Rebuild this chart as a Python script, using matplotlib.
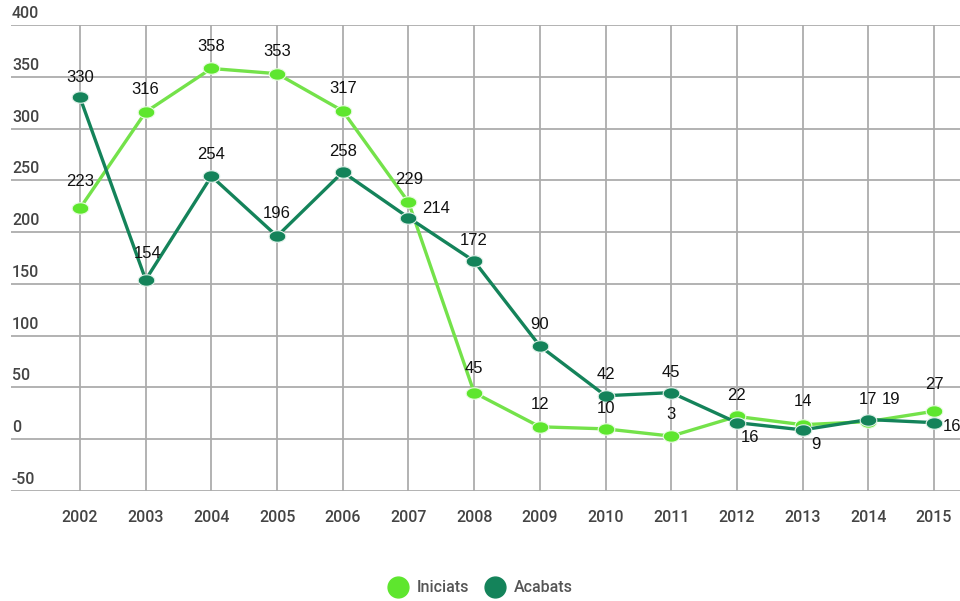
import numpy as np
import matplotlib.pyplot as plt
from matplotlib.lines import Line2D

# yearly counts
years = [2002, 2003, 2004, 2005, 2006, 2007, 2008, 2009, 2010, 2011, 2012, 2013, 2014, 2015]
iniciats = [223, 316, 358, 353, 317, 229, 45, 12, 10, 3, 22, 14, 17, 27]
acabats = [330, 154, 254, 196, 258, 214, 172, 90, 42, 45, 16, 9, 19, 16]
y_ticks = [-50, 0, 50, 100, 150, 200, 250, 300, 350, 400]

c_ini = "#5ee62e"
c_aca = "#14835a"

# label offsets in pixels (dx, dy), positive dy goes up
off_ini = [(0, 27), (0, 22), (0, 22), (0, 22), (0, 22), (1, 23), (0, 24), (0, 22),
           (0, 20), (0, 22), (0, 21), (0, 23), (0, 22), (0, 27)]
off_aca = [(0, 20), (2, 26), (0, 22), (0, 23), (0, 21), (28, 9), (0, 21), (0, 22),
           (0, 21), (0, 20), (13, -15), (13, -15), (23, 20), (18, -4)]

plt.rcParams['font.family'] = ['Roboto', 'DejaVu Sans']

fig = plt.figure(figsize=(9.6, 6.01), dpi=100)
ax = fig.add_axes([11 / 960, 110 / 601, 949 / 960, 466 / 601])

px = 65.7
ax.set_xlim(years[0] - 69 / px, years[-1] + 26 / px)
ax.set_ylim(-50, 400)

for s in ax.spines.values():
    s.set_visible(False)

ax.set_yticks(y_ticks)
ax.set_xticks(years)
ax.grid(True, color="#acacac", linewidth=1.3)
ax.set_axisbelow(True)
ax.tick_params(axis='y', length=0, labelleft=False)
ax.tick_params(axis='x', length=0, pad=14, labelsize=11.5, labelcolor="#444444")
for lbl in ax.get_xticklabels():
    lbl.set_fontweight('medium')

# y labels sit just above their gridlines
for v in y_ticks:
    ax.annotate(str(v), xy=(0, v), xycoords=ax.get_yaxis_transform(),
                xytext=(1, 4), textcoords='offset pixels', ha='left', va='bottom',
                fontsize=11.5, color="#444444", fontweight='medium')

# elliptical marker, slightly wider than tall
t = np.linspace(0, 2 * np.pi, 40)
ell = list(zip(1.45 * np.cos(t), np.sin(t)))

ax.plot(years, iniciats, color="#74e24a", linewidth=2.4, marker=ell,
        markersize=12, markerfacecolor=c_ini, markeredgecolor="#e8fbe0",
        markeredgewidth=0.8, zorder=3)
ax.plot(years, acabats, color=c_aca, linewidth=2.4, marker=ell,
        markersize=12, markerfacecolor=c_aca, markeredgecolor="#e0f0e8",
        markeredgewidth=0.8, zorder=4)

for x, v, (dx, dy) in zip(years, iniciats, off_ini):
    ax.annotate(str(v), xy=(x, v), xytext=(dx, dy), textcoords='offset pixels',
                ha='center', va='center', fontsize=12, color="#111111",
                family='Liberation Sans', zorder=5)
for x, v, (dx, dy) in zip(years, acabats, off_aca):
    ax.annotate(str(v), xy=(x, v), xytext=(dx, dy), textcoords='offset pixels',
                ha='center', va='center', fontsize=12, color="#111111",
                family='Liberation Sans', zorder=5)

handles = [Line2D([], [], linestyle='none', marker='o', markersize=15,
                  markerfacecolor=c_ini, markeredgecolor=c_ini, label='Iniciats'),
           Line2D([], [], linestyle='none', marker='o', markersize=15,
                  markerfacecolor=c_aca, markeredgecolor=c_aca, label='Acabats')]
leg = fig.legend(handles=handles, loc='center', bbox_to_anchor=(0.5, 1 - 588 / 601),
                 ncol=2, frameon=False, fontsize=11.5, handletextpad=0.5,
                 columnspacing=1.0, handlelength=1.3)
for txt in leg.get_texts():
    txt.set_color("#555555")
    txt.set_fontweight('medium')

fig.savefig("out.png", dpi=100)
